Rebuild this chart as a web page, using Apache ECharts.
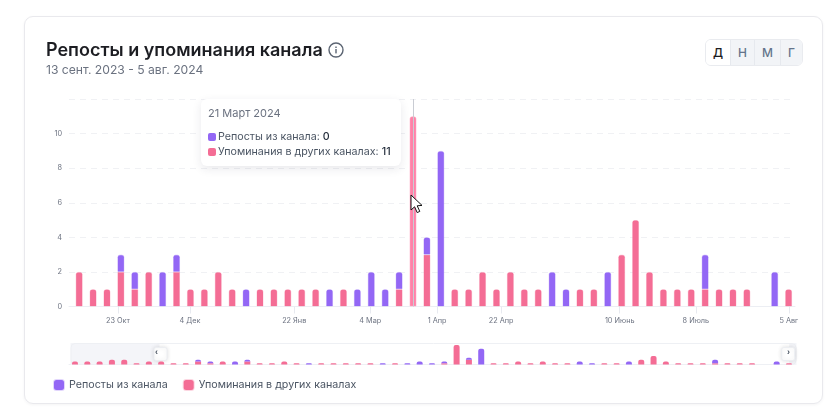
<!DOCTYPE html>
<html lang="ru"><head><meta charset="utf-8">
<style>
html,body{margin:0;padding:0;background:#fff;width:834px;height:420px;overflow:hidden;font-family:Inter,sans-serif}
#card{position:absolute;left:24px;top:16px;width:799px;height:388px;box-sizing:border-box;border:1px solid #e9e9ed;border-radius:9px;box-shadow:0 1px 3px rgba(30,30,60,.05)}
#chart{position:absolute;left:0;top:0;width:834px;height:420px}
#title{position:absolute;left:46px;top:39px;font-size:18px;font-weight:600;color:#1c1d22;line-height:22px;white-space:nowrap}
#sub{position:absolute;left:46px;top:62px;font-size:12.15px;color:#6b7280;line-height:16px;white-space:nowrap}
#info{position:absolute;left:328px;top:42px}
#btns{position:absolute;left:705px;top:39px;width:98px;height:27px;box-sizing:border-box;border:1px solid #e9ebef;border-radius:6px;display:flex;overflow:hidden;font-size:12px;font-weight:500}
#btns div{box-sizing:border-box;background:#f2f4f7;color:#64748b;display:flex;align-items:center;justify-content:center;border-left:1px solid #e6e9ee}
#btns div:first-child{background:#fff;color:#1c1d22;border-left:0}
</style></head><body>
<div id="card"></div>
<div id="chart"></div>
<div id="title">Репосты и упоминания канала</div>
<div id="sub">13 сент. 2023 - 5 авг. 2024</div>
<svg id="info" width="16" height="16" viewBox="0 0 16 16"><circle cx="8" cy="8" r="7" fill="none" stroke="#5b6472" stroke-width="1.4"/><rect x="7.3" y="7" width="1.4" height="4.4" fill="#5b6472"/><rect x="7.3" y="4.5" width="1.4" height="1.5" fill="#5b6472"/></svg>
<div id="btns"><div style="width:24px">Д</div><div style="width:24px">Н</div><div style="width:26px">М</div><div style="flex:1">Г</div></div>
<script src="https://cdn.jsdelivr.net/npm/echarts@6/dist/echarts.min.js"></script>
<script>
const seriesNames = ['Репосты из канала', 'Упоминания в других каналах'];
const reposts  = [0,0,0,0,0,0,0, 0,0,0,1,1,0,2,1,0,0,0,0,1,0,0,0,0,0,1,0,1,2,1,1,0,1,9,0,0,0,0,0,0,0,2,1,0,0,2,0,0,0,0,0,0,2,0,0,0,0,2,0];
const mentions = [2,2,2,3,3,1,2, 2,1,1,2,1,2,0,2,1,1,2,1,0,1,1,1,1,1,0,1,0,0,0,1,11,3,0,1,1,2,1,2,1,1,0,0,1,1,0,3,5,2,1,1,1,1,1,1,1,0,0,1];
const tickLabels = ['23 Окт','4 Дек','22 Янв','4 Мар','1 Апр','22 Апр','10 Июнь','8 Июль','5 Авг'];
const tickValues = [9.79,14.97,22.46,27.93,32.73,37.34,45.86,51.33,58.02];
const firstVisibleIndex = 7;
const hoveredIndex = 31;
const hoveredDate = '21 Март 2024';
const yTicks = { min: 0, max: 12, interval: 2 };

const PURPLE = '#9367f5', PINK = '#f46d95', PINK_HOVER = '#ff82a8';

function stackData(values, isTop, radius, isMain) {
  return values.map((v, i) => ({
    value: [v === 0 ? '-' : v, i],
    itemStyle: { borderRadius: isTop(i) ? [radius, radius, 0, 0] : 0, opacity: isMain && i < firstVisibleIndex ? 0 : 1 }
  }));
}
function pair(stack, xi, yi, width, radius, z) {
  const isMain = xi === 0;
  const bw = isMain ? 1 : 0;
  const common = { type: 'bar', stack, xAxisIndex: xi, yAxisIndex: yi, barWidth: width, z, silent: !isMain, encode: { x: 1, y: 0 } };
  return [
    { ...common, name: seriesNames[1],
      data: stackData(mentions, i => reposts[i] === 0, radius, isMain),
      itemStyle: { color: PINK, borderColor: 'rgba(244,109,149,.28)', borderWidth: bw },
      emphasis: { focus: 'none', itemStyle: { color: PINK_HOVER, borderColor: 'rgba(255,170,195,.5)' } } },
    { ...common, name: seriesNames[0],
      data: stackData(reposts, () => true, radius, isMain),
      itemStyle: { color: PURPLE, borderColor: 'rgba(147,103,245,.28)', borderWidth: bw },
      emphasis: { focus: 'none' } }
  ];
}
const chart = echarts.init(document.getElementById('chart'), null, { renderer: 'canvas' });
chart.setOption({
  animation: false,
  textStyle: { fontFamily: 'Inter, sans-serif' },
  color: [PURPLE, PINK],
  grid: [
    { left: 69, right: 39, top: 99, height: 207.5 },
    { left: 69, right: 39, top: 345, height: 19.5 }
  ],
  xAxis: [
    { type: 'value', gridIndex: 0, min: -1.11, max: 59.06, splitLine: { show: false },
      axisLine: { show: true, onZero: false, lineStyle: { color: '#eceef3', width: 1 } },
      axisTick: { show: true, length: 7, customValues: tickValues, lineStyle: { color: '#e8eaf0' } },
      axisLabel: { show: true, customValues: tickValues, hideOverlap: false, margin: 11, fontSize: 7.3, color: '#6c7280',
        fontFamily: 'Inter, sans-serif', formatter: v => tickLabels[tickValues.indexOf(v)] || '' } },
    { type: 'value', gridIndex: 1, min: -0.487, max: 58.49, splitLine: { show: false },
      axisLine: { show: true, onZero: false, lineStyle: { color: '#eef0f4' } }, axisTick: { show: false }, axisLabel: { show: false } }
  ],
  yAxis: [
    { type: 'value', gridIndex: 0, min: yTicks.min, max: yTicks.max, interval: yTicks.interval,
      axisLine: { show: false }, axisTick: { show: false },
      axisLabel: { showMaxLabel: false, fontSize: 7.3, color: '#6c7280', margin: 7, fontFamily: 'Inter, sans-serif' },
      splitLine: { lineStyle: { type: [6, 5], color: '#f0f1f4', width: 1 } } },
    { type: 'value', gridIndex: 1, min: 0.35, max: 11, show: false }
  ],
  dataZoom: [{
    type: 'slider', xAxisIndex: 0, filterMode: 'none', start: 12.26, end: 99.0,
    left: 69, width: 726, top: 343, height: 22, z: 1,
    showDetail: false, showDataShadow: false, brushSelect: false, moveHandleSize: 0,
    backgroundColor: '#f4f5f9', borderColor: '#eef0f4', borderRadius: 4,
    fillerColor: '#ffffff',
    handleIcon: 'path://M2,0H10a2,2 0 0 1 2,2V10a2,2 0 0 1-2,2H2a2,2 0 0 1-2-2V2a2,2 0 0 1 2-2Z',
    handleSize: 13,
    handleStyle: { color: '#fff', borderColor: '#eceef2', borderWidth: 1, shadowBlur: 4, shadowColor: 'rgba(0,0,0,.12)' }
  }],
  legend: {
    left: 48, top: 374, itemWidth: 10, itemHeight: 10, itemGap: 15, icon: 'roundRect',
    data: seriesNames, selectedMode: false,
    textStyle: { fontSize: 10.7, color: '#4b5563', fontFamily: 'Inter, sans-serif' }
  },
  tooltip: {
    trigger: 'axis', alwaysShowContent: true, transitionDuration: 0,
    axisPointer: { type: 'line', snap: true, label: { show: false }, lineStyle: { color: '#c9ccd3', width: 1, type: 'solid' } },
    backgroundColor: '#fff', borderWidth: 0, padding: 0,
    extraCssText: 'box-shadow:0 3px 10px rgba(40,40,70,.1);border-radius:6px;width:200px;height:67px;box-sizing:border-box;',
    position: () => [201, 99],
    formatter: params => {
      const i = params[0].dataIndex;
      const row = (c, n, v) => `<div style="display:flex;align-items:center;height:15px;font-size:10.7px;color:#4b5563;white-space:nowrap"><span style="width:8px;height:8px;border-radius:2px;background:${c};margin-right:2px"></span>${n}:&nbsp;<b style="font-weight:500;color:#1f2937">${v}</b></div>`;
      return `<div style="padding:7px 7px;font-family:Inter,sans-serif"><div style="font-size:11px;color:#6b7280;line-height:14px;margin-bottom:9px">${hoveredDate}</div>`
        + row(PURPLE, seriesNames[0], reposts[i]) + row(PINK, seriesNames[1], mentions[i]) + '</div>';
    }
  },
  graphic: [
    { type: 'text', z: 100, x: 156.5, y: 353, style: { text: '‹', fontSize: 9, fontWeight: 'bold', fill: '#4b5563', align: 'center', verticalAlign: 'middle' } },
    { type: 'text', z: 100, x: 788.5, y: 353, style: { text: '›', fontSize: 9, fontWeight: 'bold', fill: '#4b5563', align: 'center', verticalAlign: 'middle' } },
    { type: 'polygon', z: 100, x: 411, y: 195, shape: { points: [[0,0],[0,15],[3.6,11.8],[6.2,17.6],[8.8,16.4],[6.2,10.8],[11,10.4]] },
      style: { fill: '#fff', stroke: '#111', lineWidth: 1 } }
  ],
  series: [...pair('main', 0, 0, 7, 2, 3), ...pair('mini', 1, 1, 6, 2, 3)]
});
chart.dispatchAction({ type: 'showTip', seriesIndex: 0, dataIndex: hoveredIndex });
chart.dispatchAction({ type: 'highlight', seriesIndex: 0, dataIndex: hoveredIndex });
</script>
</body></html>
